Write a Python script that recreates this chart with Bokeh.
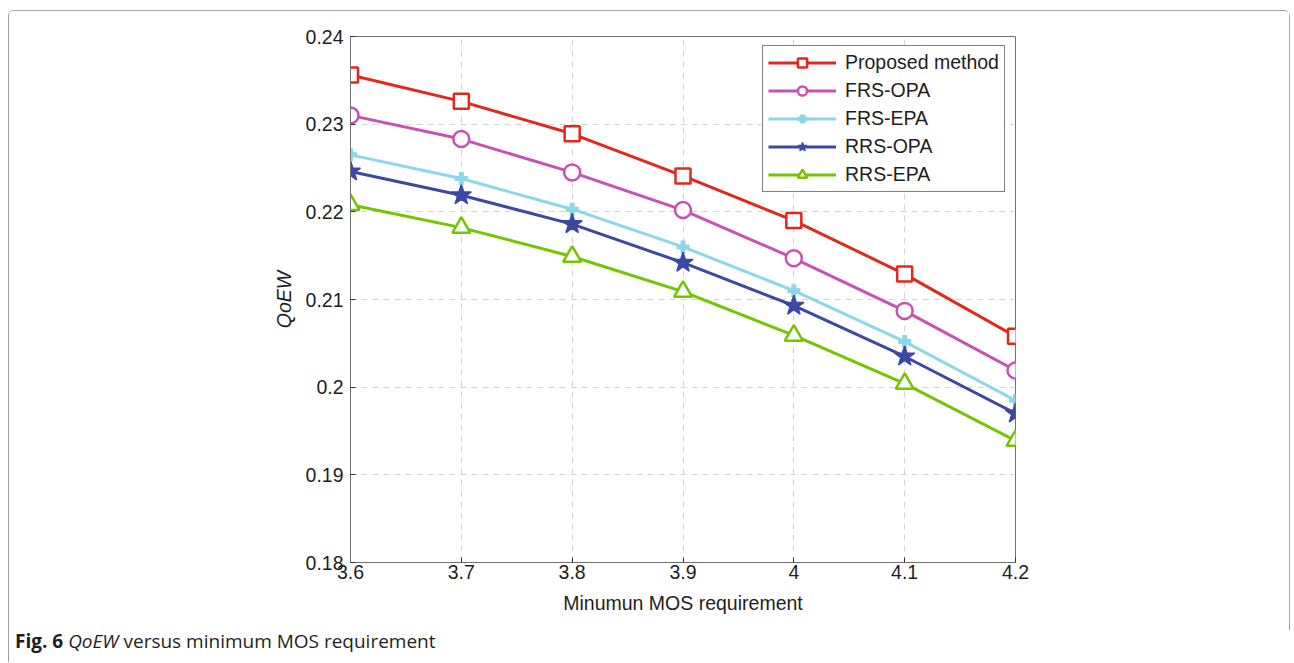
from bokeh.plotting import figure
from bokeh.layouts import column
from bokeh.models import Legend, LegendItem, FixedTicker, Div
from bokeh.embed import file_html
from bokeh.resources import INLINE

x_vals = [3.6, 3.7, 3.8, 3.9, 4.0, 4.1, 4.2]
proposed = [0.2356, 0.2326, 0.2289, 0.2241, 0.2190, 0.2129, 0.2058]
frs_opa = [0.2310, 0.2283, 0.2245, 0.2202, 0.2147, 0.2087, 0.2019]
frs_epa = [0.2265, 0.2238, 0.2203, 0.2160, 0.2110, 0.2052, 0.1985]
rrs_opa = [0.2246, 0.2219, 0.2186, 0.2142, 0.2093, 0.2035, 0.1970]
rrs_epa = [0.2208, 0.2182, 0.2149, 0.2109, 0.2059, 0.2004, 0.1939]

x_ticks = [3.6, 3.7, 3.8, 3.9, 4.0, 4.1, 4.2]
x_tick_labels = ["3.6", "3.7", "3.8", "3.9", "4", "4.1", "4.2"]
y_ticks = [0.18, 0.19, 0.20, 0.21, 0.22, 0.23, 0.24]
y_tick_labels = ["0.18", "0.19", "0.2", "0.21", "0.22", "0.23", "0.24"]

series = [
    ("Proposed method", proposed, "#e2281c", "square", 15),
    ("FRS-OPA", frs_opa, "#c852b4", "circle", 16),
    ("FRS-EPA", frs_epa, "#8cd8e8", "cross", 13),
    ("RRS-OPA", rrs_opa, "#3c48a2", "star", 21),
    ("RRS-EPA", rrs_epa, "#74c400", "triangle", 18),
]

W, H = 1280, 614
CAP_H = 37
p = figure(width=W, height=H, output_backend="svg", toolbar_location=None,
           x_range=(3.6, 4.2), y_range=(0.18, 0.24),
           min_border_left=341, min_border_right=274, min_border_top=25, min_border_bottom=63)
p.background_fill_color = "white"
p.border_fill_color = "white"
p.outline_line_color = "#707070"
p.outline_line_width = 1

FONT = "Liberation Sans"
FS = "19.5px"
for ax in (p.xaxis[0], p.yaxis[0]):
    ax.axis_line_color = "#707070"
    ax.major_tick_line_color = "#333333"
    ax.major_tick_in = 5
    ax.major_tick_out = 0
    ax.minor_tick_line_color = None
    ax.major_label_text_font = FONT
    ax.major_label_text_font_size = FS
    ax.major_label_text_color = "#1e1e1e"
    ax.axis_label_text_font = FONT
    ax.axis_label_text_font_size = FS
    ax.axis_label_text_color = "#1e1e1e"
    ax.axis_label_text_font_style = "normal"

p.xaxis.ticker = FixedTicker(ticks=x_ticks)
p.yaxis.ticker = FixedTicker(ticks=y_ticks)
p.xaxis.major_label_overrides = {t: l for t, l in zip(x_ticks, x_tick_labels)}
p.yaxis.major_label_overrides = {t: l for t, l in zip(y_ticks, y_tick_labels)}
p.xaxis.major_label_standoff = 2
p.yaxis.major_label_standoff = 7
p.xaxis.axis_label = "Minumun MOS requirement"
p.xaxis.axis_label_standoff = 10
p.yaxis.axis_label = "QoEW"
p.yaxis.axis_label_text_font_style = "italic"
p.yaxis.axis_label_standoff = 8

p.xgrid.grid_line_color = "#d4d4d4"
p.ygrid.grid_line_color = "#d4d4d4"
p.xgrid.grid_line_dash = "6 5"
p.ygrid.grid_line_dash = "6 5"

items = []
for name, ys, color, marker, size in series:
    r1 = p.line(x_vals, ys, line_color=color, line_width=3)
    if marker == "cross":
        r2 = p.scatter(x_vals, ys, marker=marker, size=size, line_color=color, line_width=5)
    elif marker == "star":
        r2 = p.scatter(x_vals, ys, marker=marker, size=size, line_color=color,
                       fill_color=color, line_width=1.5)
    else:
        r2 = p.scatter(x_vals, ys, marker=marker, size=size, line_color=color,
                       fill_color="white", line_width=2.5)
    items.append(LegendItem(label=name, renderers=[r1, r2]))

legend = Legend(items=items, location=(412, 370))
legend.label_text_font = FONT
legend.label_text_font_size = FS
legend.label_text_color = "#1e1e1e"
legend.border_line_color = "black"
legend.border_line_width = 1
legend.glyph_width = 68
legend.glyph_height = 23
legend.label_height = 23
legend.label_standoff = 9
legend.spacing = 5
legend.padding = 5
legend.margin = 0
legend.background_fill_alpha = 1
p.add_layout(legend, "center")

caption = Div(
    text='<b>Fig. 6</b> <i>QoEW</i> versus minimum MOS requirement',
    width=W, height=CAP_H,
    styles={"font-family": "'Open Sans'", "font-size": "19px", "color": "#1e1e1e",
            "padding-left": "1px", "padding-top": "0px", "line-height": "22px",
            "background": "white"},
)

layout = column(p, caption, spacing=0, width=W, height=H + CAP_H, sizing_mode="fixed")
layout.margin = (10, 0, 0, 8)
layout.styles = {"border": "1px solid #a0a0a0", "border-bottom": "none",
                 "border-radius": "6px 6px 0 0", "box-sizing": "content-box",
                 "background": "white"}

open("out.html", "w").write(file_html(layout, INLINE))
